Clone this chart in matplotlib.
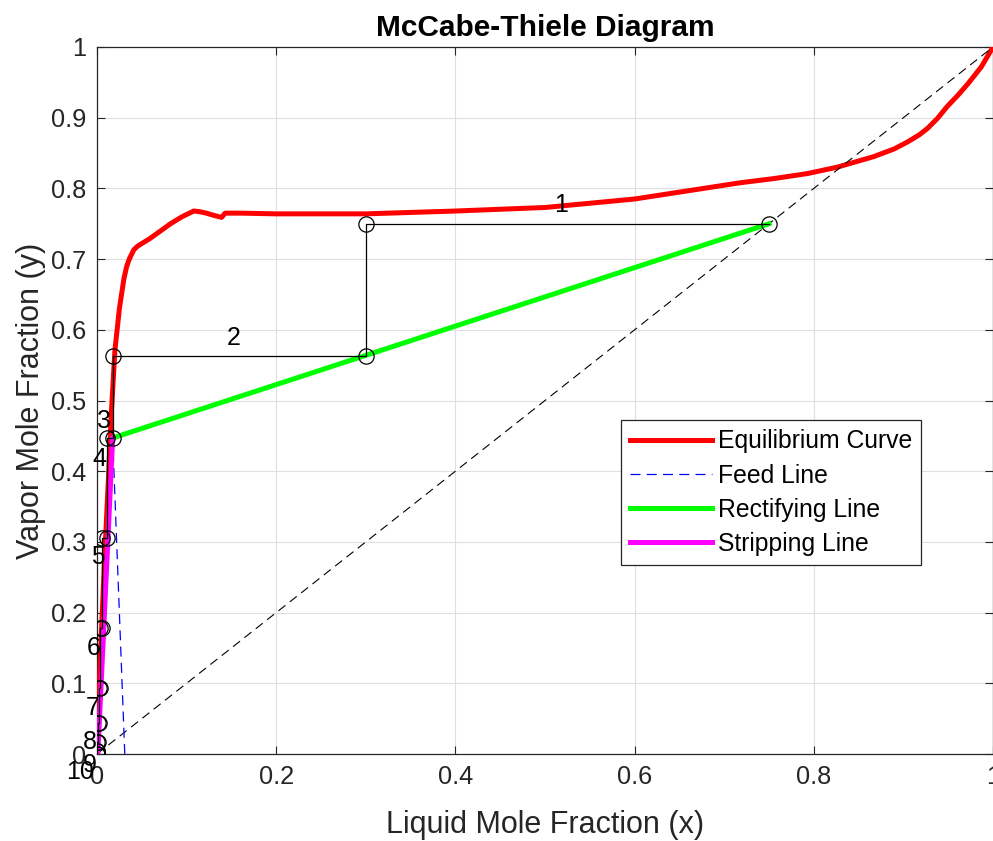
import numpy as np
import matplotlib
matplotlib.use('Agg')
import matplotlib.pyplot as plt
from matplotlib.ticker import FormatStrFormatter

plt.rcParams['font.family'] = ['Liberation Sans', 'DejaVu Sans']

# equilibrium curve
eq_x = [0.0, 0.002, 0.005, 0.009, 0.0127, 0.016, 0.020, 0.025, 0.030, 0.033, 0.036,
        0.041, 0.045, 0.050, 0.059, 0.070, 0.082, 0.095, 0.108, 0.115, 0.122, 0.130,
        0.139, 0.143, 0.160, 0.200, 0.300, 0.400, 0.500, 0.600, 0.718, 0.756, 0.793,
        0.826, 0.867, 0.890, 0.905, 0.918, 0.927, 0.938, 0.949, 0.961, 0.972, 0.987, 1.0]
eq_y = [0.0, 0.08, 0.175, 0.29, 0.388, 0.482, 0.571, 0.630, 0.672, 0.689, 0.700,
        0.713, 0.718, 0.722, 0.729, 0.739, 0.750, 0.760, 0.768, 0.767, 0.765, 0.762,
        0.759, 0.765, 0.765, 0.764, 0.764, 0.768, 0.773, 0.785, 0.808, 0.814, 0.821,
        0.830, 0.845, 0.856, 0.866, 0.876, 0.885, 0.899, 0.916, 0.932, 0.948, 0.972, 1.0]

# feed, rectifying, stripping lines
feed_x = [0.031, 0.0175]
feed_y = [0.0, 0.447]
rect_x = [0.0175, 0.75]
rect_y = [0.447, 0.75]
strip_x = [0.001, 0.0175]
strip_y = [0.001, 0.447]

# stages: start point, then x of each horizontal end and y of each horizontal
x_start = 0.75
stage_x = [0.30, 0.018, 0.011, 0.006, 0.003, 0.0018, 0.001, 0.0005, 0.0002, 0.0001]
stage_y = [0.75, 0.5625, 0.447, 0.305, 0.178, 0.093, 0.044, 0.017, 0.004, 0.0]

# stage number labels
lab_text = ['1', '2', '3', '4', '5', '6', '7', '8', '9', '10']
lab_x = [0.518, 0.152, 0.008, 0.003, 0.001, -0.004, -0.005, -0.008, -0.008, -0.019]
lab_y = [0.776, 0.588, 0.471, 0.417, 0.278, 0.150, 0.065, 0.017, -0.015, -0.025]

# build the staircase
sx = [x_start]
sy = [stage_y[0]]
for i in range(len(stage_x)):
    sx.append(stage_x[i])
    sy.append(stage_y[i])
    if i + 1 < len(stage_y):
        sx.append(stage_x[i])
        sy.append(stage_y[i + 1])

axcol = '#262626'
fig = plt.figure(figsize=(9.93, 8.41), dpi=100)
ax = fig.add_axes([97/993, 1 - 754/841, 896/993, 707/841])

ax.plot(eq_x, eq_y, color='#ff0000', lw=3.6, label='Equilibrium Curve', zorder=3)
ax.plot([0, 1], [0, 1], color='black', lw=0.8, dashes=(8, 5), zorder=3)
ax.plot(feed_x, feed_y, color='#0000ff', lw=0.9, dashes=(8, 5), label='Feed Line', zorder=4)
ax.plot(rect_x, rect_y, color='#00ff00', lw=3.6, label='Rectifying Line', zorder=4)
ax.plot(strip_x, strip_y, color='#ff00ff', lw=3.6, label='Stripping Line', zorder=4)
ax.plot(sx, sy, color='black', lw=0.9, zorder=5)
ax.plot(sx, sy, 'o', mfc='none', mec='black', ms=11, mew=0.9, zorder=6)

for t, x, y in zip(lab_text, lab_x, lab_y):
    ax.text(x, y, t, fontsize=18, color='black', ha='center', va='center', clip_on=False)

ax.set_xlim(0, 1)
ax.set_ylim(0, 1)
ax.set_xticks(np.arange(0, 1.01, 0.2))
ax.set_yticks(np.arange(0, 1.01, 0.1))
ax.xaxis.set_major_formatter(FormatStrFormatter('%g'))
ax.yaxis.set_major_formatter(FormatStrFormatter('%g'))
ax.tick_params(direction='in', length=6, width=0.8, colors=axcol, labelsize=18.3,
               top=True, right=True, pad=8)
for s in ax.spines.values():
    s.set_color(axcol)
    s.set_linewidth(0.9)
ax.grid(True, color='#dfdfdf', lw=0.8)
ax.set_axisbelow(True)

ax.set_title('McCabe-Thiele Diagram', fontsize=21.5, fontweight='bold', color='black', pad=8)
ax.set_xlabel('Liquid Mole Fraction (x)', fontsize=22, color=axcol, labelpad=15)
ax.set_ylabel('Vapor Mole Fraction (y)', fontsize=22, color=axcol, labelpad=3)

leg = ax.legend(loc='upper left', bbox_to_anchor=(0.585, 0.472), fontsize=17.8,
                handlelength=3.3, handletextpad=0.25, labelspacing=0.41,
                borderpad=0.37, borderaxespad=0, fancybox=False, framealpha=1,
                edgecolor=axcol)
leg.get_frame().set_linewidth(0.9)

fig.savefig('out.png', dpi=100)
